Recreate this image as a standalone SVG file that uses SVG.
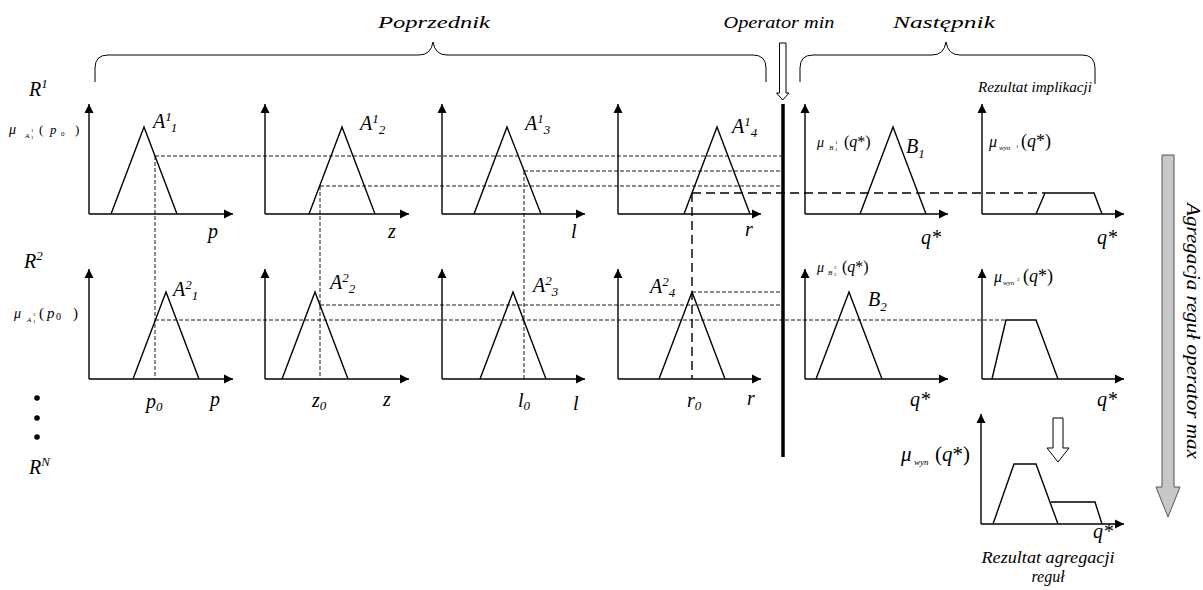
<svg xmlns="http://www.w3.org/2000/svg" width="1203" height="590" viewBox="0 0 1203 590">
<style>
text{font-family:"Liberation Serif",serif;fill:#000}
.it{font-style:italic}
.ax{stroke:#000;stroke-width:1.4;fill:none;marker-end:url(#ah)}
.mf{stroke:#000;stroke-width:1.4;fill:none}
.sd{stroke:#000;stroke-width:0.9;fill:none;stroke-dasharray:4 2}
.ld{stroke:#000;stroke-width:1.4;fill:none;stroke-dasharray:9 5}
.lbl{font-size:20px;font-style:italic}
.ax-l{font-size:20px;font-style:italic}
.sup{font-size:13px}
.mu{font-size:14px;font-style:italic}
</style>
<defs>
<marker id="ah" markerUnits="userSpaceOnUse" markerWidth="10" markerHeight="10" refX="9" refY="5" orient="auto">
<path d="M0,0.5 L9,5 L0,9.5 z" fill="#000"/>
</marker>
</defs>
<rect width="1203" height="590" fill="#fff"/>

<g id="headers">
<text class="it" x="434" y="28" font-size="17" text-anchor="middle" textLength="112" lengthAdjust="spacingAndGlyphs">Poprzednik</text>
<text class="it" x="779" y="28" font-size="17" text-anchor="middle" textLength="111" lengthAdjust="spacingAndGlyphs">Operator min</text>
<text class="it" x="944" y="28" font-size="17" text-anchor="middle" textLength="102" lengthAdjust="spacingAndGlyphs">Następnik</text>
<path d="M95,82 V68 Q95,55 108,55 H419 Q431,55 433,42 Q435,55 447,55 H753 Q766,55 766,68 V82" fill="none" stroke="#000" stroke-width="1"/>
<path d="M800,82 V68 Q800,55 813,55 H932 Q944,55 946,42 Q948,55 960,55 H1082 Q1095,55 1095,68 V84" fill="none" stroke="#000" stroke-width="1"/>
<text class="it" x="1035" y="92" font-size="15" text-anchor="middle" textLength="114" lengthAdjust="spacingAndGlyphs">Rezultat implikacji</text>
</g>

<g id="rule-labels">
<text class="lbl" x="29" y="96">R<tspan class="sup" dy="-8">1</tspan></text>
<text class="lbl" x="24" y="268">R<tspan class="sup" dy="-8">2</tspan></text>
<text class="lbl" x="29" y="474">R<tspan class="sup" dy="-8">N</tspan></text>
<circle cx="37" cy="398" r="2.8"/>
<circle cx="37" cy="418" r="2.8"/>
<circle cx="37" cy="437" r="2.8"/>
</g>

<g id="mu-labels">
<text x="9" y="134" class="mu">μ</text>
<text x="25" y="138" font-size="7" class="it">A</text>
<text x="31" y="139" font-size="5">1</text>
<text x="31" y="132" font-size="5">1</text>
<text x="39" y="134" font-size="13">(</text>
<text x="50" y="134" font-size="13" class="it">p</text>
<text x="61" y="136" font-size="7">0</text>
<text x="75" y="134" font-size="13">)</text>

<text x="14" y="318" class="mu">μ</text>
<text x="27" y="322" font-size="7" class="it">A</text>
<text x="33" y="323" font-size="5">1</text>
<text x="33" y="316" font-size="5">2</text>
<text x="39" y="318" font-size="15">(</text>
<text x="47" y="318" font-size="15" class="it">p</text>
<text x="56" y="320" font-size="10">0</text>
<text x="73" y="318" font-size="15">)</text>

<text x="817" y="147" class="mu">μ</text>
<text x="829" y="150" font-size="7" class="it">B</text>
<text x="835" y="151" font-size="5">1</text>
<text x="835" y="144" font-size="5">1</text>
<text x="844" y="147" font-size="16">(<tspan class="it">q</tspan>*)</text>

<text x="817" y="272" class="mu">μ</text>
<text x="828" y="275" font-size="7" class="it">B</text>
<text x="834" y="276" font-size="5">2</text>
<text x="834" y="269" font-size="5">2</text>
<text x="842" y="272" font-size="16">(<tspan class="it">q</tspan>*)</text>

<text x="989" y="147" font-size="16" class="it">μ</text>
<text x="999" y="150" font-size="7" class="it">wyn</text>
<text x="1016" y="148" font-size="5">1</text>
<text x="1021" y="147" font-size="18">(<tspan class="it">q</tspan>*)</text>

<text x="994" y="282" font-size="16" class="it">μ</text>
<text x="1003" y="285" font-size="7" class="it">wyn</text>
<text x="1017" y="281" font-size="5">2</text>
<text x="1023" y="282" font-size="18">(<tspan class="it">q</tspan>*)</text>

<text x="901" y="461" font-size="21" class="it">μ</text>
<text x="914" y="465" font-size="9" class="it">wyn</text>
<text x="935" y="461" font-size="21">(<tspan class="it">q</tspan>*)</text>
</g>

<g id="plot-r1-p">
<path class="ax" d="M89,214 V104"/>
<path class="ax" d="M89,214 H233"/>
<path class="mf" d="M111,214 L144,127 L177,214"/>
<text class="lbl" x="153" y="128">A<tspan class="sup" dy="-7">1</tspan><tspan class="sup" dy="11">1</tspan></text>
<text class="ax-l" x="208" y="238">p</text>
</g>
<g id="plot-r1-z">
<path class="ax" d="M265,214 V104"/>
<path class="ax" d="M265,214 H409"/>
<path class="mf" d="M309,214 L342,127 L375,214"/>
<text class="lbl" x="360" y="130">A<tspan class="sup" dy="-7">1</tspan><tspan class="sup" dy="11">2</tspan></text>
<text class="ax-l" x="388" y="238">z</text>
</g>
<g id="plot-r1-l">
<path class="ax" d="M442,214 V104"/>
<path class="ax" d="M442,214 H585"/>
<path class="mf" d="M474,214 L507,127 L541,214"/>
<text class="lbl" x="525" y="130">A<tspan class="sup" dy="-7">1</tspan><tspan class="sup" dy="11">3</tspan></text>
<text class="ax-l" x="571" y="238">l</text>
</g>
<g id="plot-r1-r">
<path class="ax" d="M618,214 V104"/>
<path class="ax" d="M618,214 H761"/>
<path class="mf" d="M684,214 L717,127 L750,214"/>
<text class="lbl" x="732" y="133">A<tspan class="sup" dy="-7">1</tspan><tspan class="sup" dy="11">4</tspan></text>
<text class="ax-l" x="745" y="236">r</text>
</g>
<g id="plot-r1-b">
<path class="ax" d="M805,214 V104"/>
<path class="ax" d="M805,214 H948"/>
<path class="mf" d="M860,214 L893,127 L926,214"/>
<text class="lbl" x="906" y="153">B<tspan class="sup" dy="5">1</tspan></text>
<text class="ax-l" x="921" y="244">q*</text>
</g>
<g id="plot-r1-wyn">
<path class="ax" d="M982,214 V104"/>
<path class="ax" d="M982,214 H1124"/>
<path class="mf" d="M1036,214 L1045,193 L1094,193 L1102,214"/>
<text class="ax-l" x="1097" y="244">q*</text>
</g>

<g id="plot-r2-p">
<path class="ax" d="M89,379 V269"/>
<path class="ax" d="M89,379 H233"/>
<path class="mf" d="M133,379 L166,292 L199,379"/>
<text class="lbl" x="173" y="296">A<tspan class="sup" dy="-7">2</tspan><tspan class="sup" dy="11">1</tspan></text>
<text class="ax-l" x="146" y="408">p<tspan class="sup" dy="3">0</tspan></text>
<text class="ax-l" x="210" y="406">p</text>
</g>
<g id="plot-r2-z">
<path class="ax" d="M265,379 V269"/>
<path class="ax" d="M265,379 H409"/>
<path class="mf" d="M282,379 L315,292 L348,379"/>
<text class="lbl" x="330" y="289">A<tspan class="sup" dy="-7">2</tspan><tspan class="sup" dy="11">2</tspan></text>
<text class="ax-l" x="312" y="407">z<tspan class="sup" dy="3">0</tspan></text>
<text class="ax-l" x="383" y="406">z</text>
</g>
<g id="plot-r2-l">
<path class="ax" d="M442,379 V269"/>
<path class="ax" d="M442,379 H585"/>
<path class="mf" d="M480,379 L513,292 L546,379"/>
<text class="lbl" x="533" y="292">A<tspan class="sup" dy="-7">2</tspan><tspan class="sup" dy="11">3</tspan></text>
<text class="ax-l" x="518" y="407">l<tspan class="sup" dy="3">0</tspan></text>
<text class="ax-l" x="573" y="410">l</text>
</g>
<g id="plot-r2-r">
<path class="ax" d="M618,379 V269"/>
<path class="ax" d="M618,379 H761"/>
<path class="mf" d="M659,379 L692,292 L725,379"/>
<text class="lbl" x="650" y="293">A<tspan class="sup" dy="-7">2</tspan><tspan class="sup" dy="11">4</tspan></text>
<text class="ax-l" x="687" y="407">r<tspan class="sup" dy="3">0</tspan></text>
<text class="ax-l" x="747" y="405">r</text>
</g>
<g id="plot-r2-b">
<path class="ax" d="M805,379 V269"/>
<path class="ax" d="M805,379 H948"/>
<path class="mf" d="M816,379 L849,292 L882,379"/>
<text class="lbl" x="868" y="306">B<tspan class="sup" dy="5">2</tspan></text>
<text class="ax-l" x="910" y="406">q*</text>
</g>
<g id="plot-r2-wyn">
<path class="ax" d="M982,379 V269"/>
<path class="ax" d="M982,379 H1124"/>
<path class="mf" d="M992,379 L1006,320 L1036,320 L1058,379"/>
<text class="ax-l" x="1097" y="406">q*</text>
</g>

<g id="plot-aggregate">
<path class="ax" d="M981,524 V414"/>
<path class="ax" d="M981,524 H1124"/>
<path class="mf" d="M993,524 L1014,464 L1036,464 L1058,524"/>
<path class="mf" d="M1051,502 L1095,502 L1102,524"/>
<text class="ax-l" x="1093" y="538">q*</text>
<text class="it" x="1048" y="563" font-size="16" text-anchor="middle" textLength="133" lengthAdjust="spacingAndGlyphs">Rezultat agregacji</text>
<text class="it" x="1048" y="582" font-size="16" text-anchor="middle">reguł</text>
</g>

<g id="aggregation-arrow">
<polygon points="1162,155 1174,155 1174,487 1180,487 1168,517 1156,487 1162,487" fill="#c8c8c8" stroke="#555" stroke-width="1"/>
<text class="it" font-size="18" transform="translate(1187,331) rotate(90)" text-anchor="middle" textLength="256" lengthAdjust="spacingAndGlyphs">Agregacja reguł operator max</text>
</g>

<g id="connectors">
<line x1="783" y1="104" x2="783" y2="457" stroke="#000" stroke-width="3.5"/>
<polygon points="779.5,43 786,43 786,93 789,93 782.7,100 776.5,93 779.5,93" fill="#fff" stroke="#000" stroke-width="1"/>
<polygon points="1053,418 1063,418 1063,448 1069,448 1058,462 1047,448 1053,448" fill="#fff" stroke="#000" stroke-width="1"/>
<path class="sd" d="M155,156 H782"/>
<path class="sd" d="M524,171 H782"/>
<path class="sd" d="M320,186 H782"/>
<path class="sd" d="M155,156 V379"/>
<path class="sd" d="M320,186 V379"/>
<path class="sd" d="M524,171 V379"/>
<path class="sd" d="M692,292 H782"/>
<path class="sd" d="M320,305 H782"/>
<path class="sd" d="M155,320 H1006"/>
<path class="ld" d="M692,193 H1045"/>
<path class="ld" d="M692,193 V379"/>
</g>
</svg>
